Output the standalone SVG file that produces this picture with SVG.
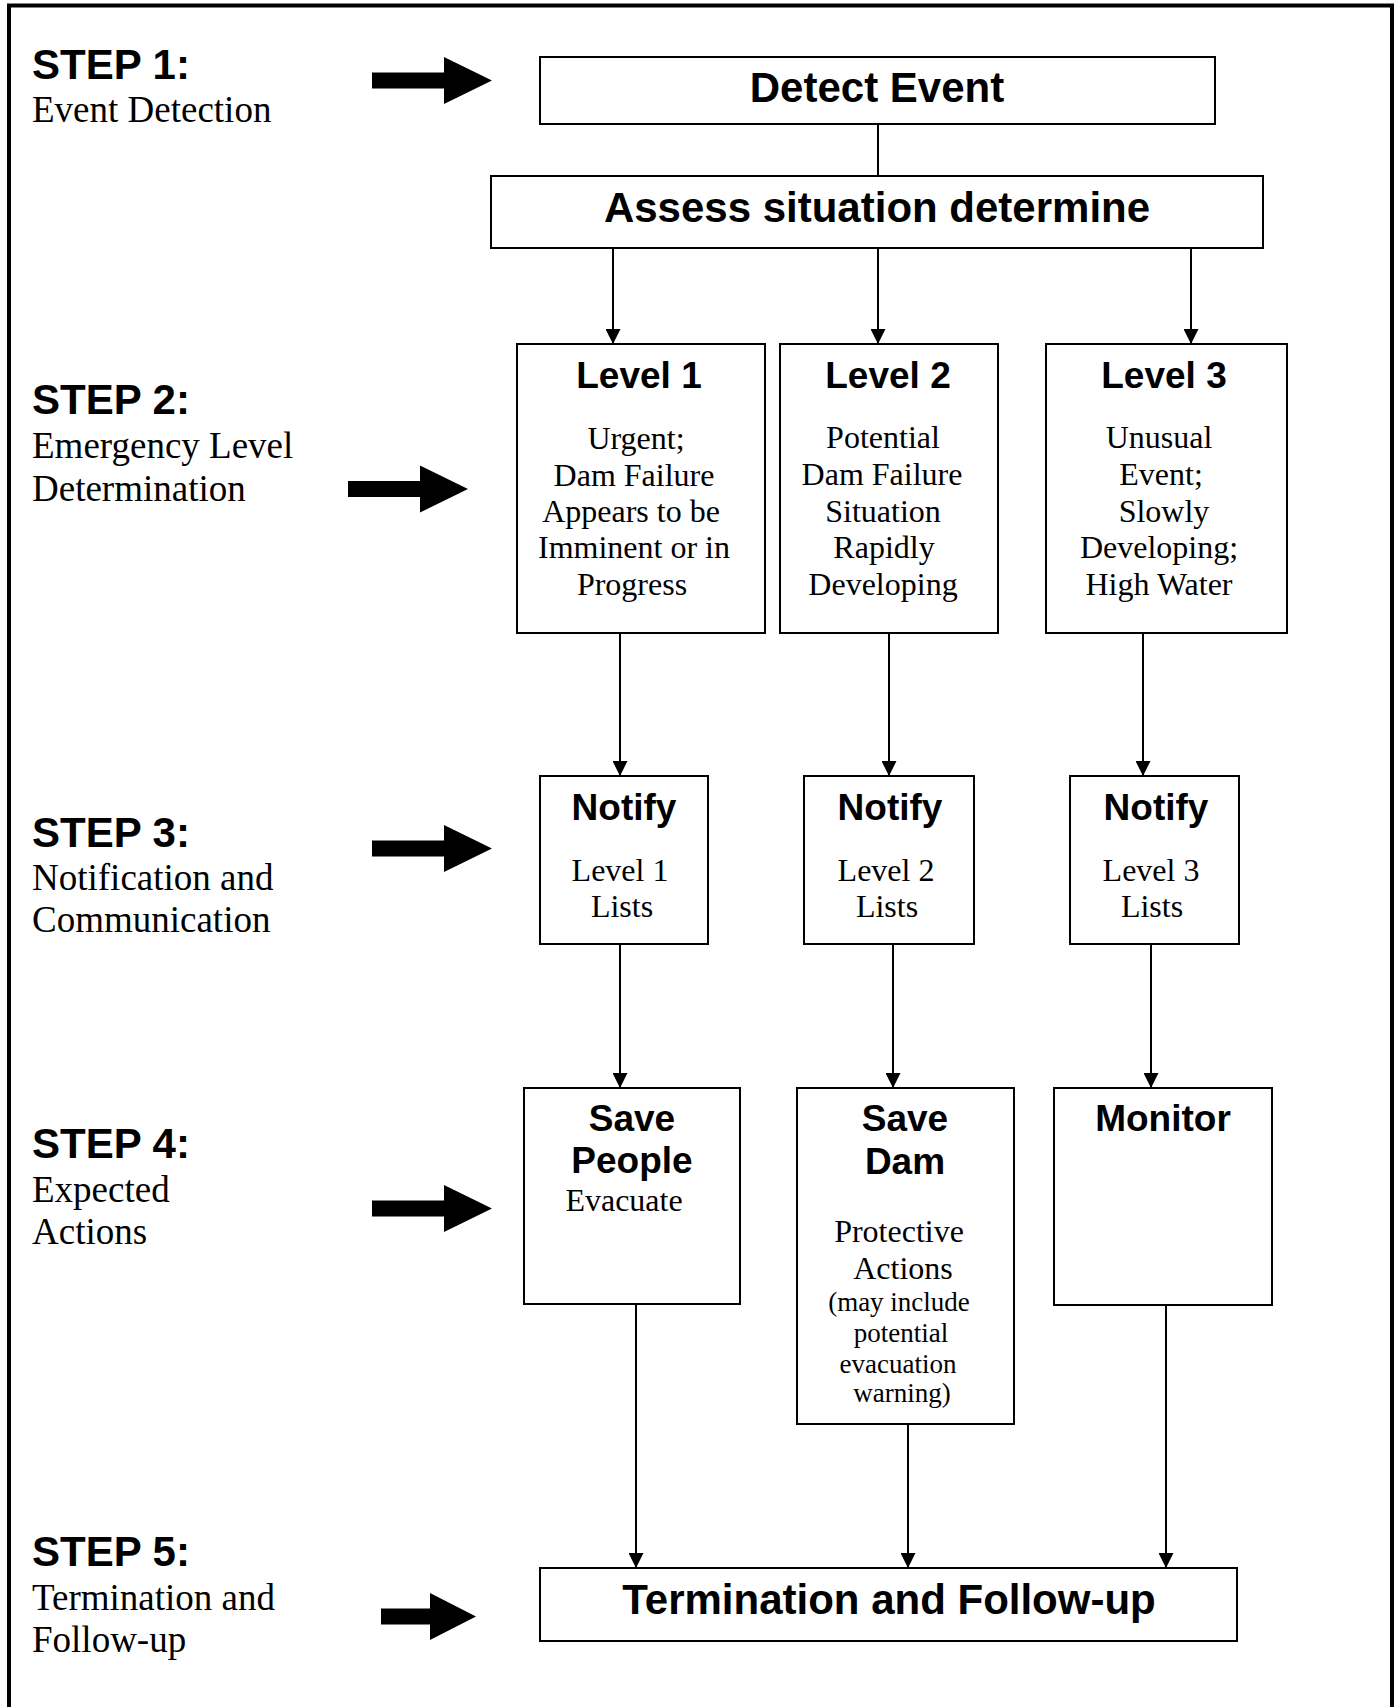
<svg xmlns="http://www.w3.org/2000/svg" width="1396" height="1707" viewBox="0 0 1396 1707">
<style>
.box{fill:#fff;stroke:#000;stroke-width:2}
.conn{stroke:#000;stroke-width:2;fill:none}
.h{font-family:"Liberation Sans",Arial,sans-serif;font-weight:bold;fill:#000}
.s{font-family:"Liberation Serif","Times New Roman",serif;fill:#000}
.c{text-anchor:middle}
.big{fill:#000}
</style>
<defs>
<marker id="ah" markerUnits="userSpaceOnUse" markerWidth="15" markerHeight="15" refX="15" refY="7.5" orient="auto">
<path d="M0,0 L15,7.5 L0,15 Z" fill="#000"/>
</marker>
<path id="bigArrow" d="M0,-8 H72 V-23.5 L120,0 L72,23.5 V8 H0 Z"/>
<path id="bigArrowShort" d="M0,-8 H49 V-23.5 L95,0 L49,23.5 V8 H0 Z"/>
</defs>
<rect x="0" y="0" width="1396" height="1707" fill="#fff"/>
<rect x="9" y="5.5" width="1383" height="1720" fill="none" stroke="#000" stroke-width="4"/>

<g id="step1">
<text class="h" x="32" y="79" font-size="42">STEP 1:</text>
<text class="s" x="32" y="122" font-size="37">Event Detection</text>
<use href="#bigArrow" class="big" transform="translate(372,80.5)"/>
</g>
<g id="step2">
<text class="h" x="32" y="414" font-size="42">STEP 2:</text>
<text class="s" x="32" y="458" font-size="37">Emergency Level</text>
<text class="s" x="32" y="501" font-size="37">Determination</text>
<use href="#bigArrow" class="big" transform="translate(348,489)"/>
</g>
<g id="step3">
<text class="h" x="32" y="847" font-size="42">STEP 3:</text>
<text class="s" x="32" y="890" font-size="37">Notification and</text>
<text class="s" x="32" y="932" font-size="37">Communication</text>
<use href="#bigArrow" class="big" transform="translate(372,848.5)"/>
</g>
<g id="step4">
<text class="h" x="32" y="1158" font-size="42">STEP 4:</text>
<text class="s" x="32" y="1202" font-size="37">Expected</text>
<text class="s" x="32" y="1244" font-size="37">Actions</text>
<use href="#bigArrow" class="big" transform="translate(372,1208.5)"/>
</g>
<g id="step5">
<text class="h" x="32" y="1566" font-size="42">STEP 5:</text>
<text class="s" x="32" y="1610" font-size="37">Termination and</text>
<text class="s" x="32" y="1652" font-size="37">Follow-up</text>
<use href="#bigArrowShort" class="big" transform="translate(381,1616.5)"/>
</g>

<g id="connectors">
<line class="conn" x1="878" y1="124" x2="878" y2="176"/>
<line class="conn" x1="613" y1="248" x2="613" y2="344" marker-end="url(#ah)"/>
<line class="conn" x1="878" y1="248" x2="878" y2="344" marker-end="url(#ah)"/>
<line class="conn" x1="1191" y1="248" x2="1191" y2="344" marker-end="url(#ah)"/>
<line class="conn" x1="620" y1="633" x2="620" y2="776" marker-end="url(#ah)"/>
<line class="conn" x1="889" y1="633" x2="889" y2="776" marker-end="url(#ah)"/>
<line class="conn" x1="1143" y1="633" x2="1143" y2="776" marker-end="url(#ah)"/>
<line class="conn" x1="620" y1="944" x2="620" y2="1088" marker-end="url(#ah)"/>
<line class="conn" x1="893" y1="944" x2="893" y2="1088" marker-end="url(#ah)"/>
<line class="conn" x1="1151" y1="944" x2="1151" y2="1088" marker-end="url(#ah)"/>
<line class="conn" x1="636" y1="1304" x2="636" y2="1568" marker-end="url(#ah)"/>
<line class="conn" x1="908" y1="1424" x2="908" y2="1568" marker-end="url(#ah)"/>
<line class="conn" x1="1166" y1="1305" x2="1166" y2="1568" marker-end="url(#ah)"/>
</g>

<g id="detect">
<rect class="box" x="540" y="57" width="675" height="67"/>
<text class="h c" x="877" y="102" font-size="42">Detect Event</text>
</g>
<g id="assess">
<rect class="box" x="491" y="176" width="772" height="72"/>
<text class="h c" x="877" y="222" font-size="42">Assess situation determine</text>
</g>

<g id="level1">
<rect class="box" x="517" y="344" width="248" height="289"/>
<text class="h c" x="639" y="388" font-size="37">Level 1</text>
<text class="s c" x="636" y="449" font-size="32">Urgent;</text>
<text class="s c" x="634" y="486" font-size="32">Dam Failure</text>
<text class="s c" x="631" y="522" font-size="32">Appears to be</text>
<text class="s c" x="634" y="558" font-size="32">Imminent or in</text>
<text class="s c" x="632" y="595" font-size="32">Progress</text>
</g>
<g id="level2">
<rect class="box" x="780" y="344" width="218" height="289"/>
<text class="h c" x="888" y="388" font-size="37">Level 2</text>
<text class="s c" x="883" y="448" font-size="32">Potential</text>
<text class="s c" x="882" y="485" font-size="32">Dam Failure</text>
<text class="s c" x="883" y="522" font-size="32">Situation</text>
<text class="s c" x="884" y="558" font-size="32">Rapidly</text>
<text class="s c" x="883" y="595" font-size="32">Developing</text>
</g>
<g id="level3">
<rect class="box" x="1046" y="344" width="241" height="289"/>
<text class="h c" x="1164" y="388" font-size="37">Level 3</text>
<text class="s c" x="1159" y="448" font-size="32">Unusual</text>
<text class="s c" x="1161" y="485" font-size="32">Event;</text>
<text class="s c" x="1164" y="522" font-size="32">Slowly</text>
<text class="s c" x="1159" y="558" font-size="32">Developing;</text>
<text class="s c" x="1159" y="595" font-size="32">High Water</text>
</g>

<g id="notify1">
<rect class="box" x="540" y="776" width="168" height="168"/>
<text class="h c" x="624" y="820" font-size="37">Notify</text>
<text class="s c" x="620" y="881" font-size="32">Level 1</text>
<text class="s c" x="622" y="917" font-size="32">Lists</text>
</g>
<g id="notify2">
<rect class="box" x="804" y="776" width="170" height="168"/>
<text class="h c" x="890" y="820" font-size="37">Notify</text>
<text class="s c" x="886" y="881" font-size="32">Level 2</text>
<text class="s c" x="887" y="917" font-size="32">Lists</text>
</g>
<g id="notify3">
<rect class="box" x="1070" y="776" width="169" height="168"/>
<text class="h c" x="1156" y="820" font-size="37">Notify</text>
<text class="s c" x="1151" y="881" font-size="32">Level 3</text>
<text class="s c" x="1152" y="917" font-size="32">Lists</text>
</g>

<g id="savePeople">
<rect class="box" x="524" y="1088" width="216" height="216"/>
<text class="h c" x="632" y="1131" font-size="37">Save</text>
<text class="h c" x="632" y="1173" font-size="37">People</text>
<text class="s c" x="624" y="1211" font-size="32">Evacuate</text>
</g>
<g id="saveDam">
<rect class="box" x="797" y="1088" width="217" height="336"/>
<text class="h c" x="905" y="1131" font-size="37">Save</text>
<text class="h c" x="905" y="1174" font-size="37">Dam</text>
<text class="s c" x="899" y="1242" font-size="32">Protective</text>
<text class="s c" x="903" y="1279" font-size="32">Actions</text>
<text class="s c" x="899" y="1311" font-size="27">(may include</text>
<text class="s c" x="901" y="1342" font-size="27">potential</text>
<text class="s c" x="898" y="1373" font-size="27">evacuation</text>
<text class="s c" x="902" y="1402" font-size="27">warning)</text>
</g>
<g id="monitor">
<rect class="box" x="1054" y="1088" width="218" height="217"/>
<text class="h c" x="1163" y="1131" font-size="37">Monitor</text>
</g>

<g id="termination">
<rect class="box" x="540" y="1568" width="697" height="73"/>
<text class="h c" x="889" y="1614" font-size="42">Termination and Follow-up</text>
</g>
</svg>
